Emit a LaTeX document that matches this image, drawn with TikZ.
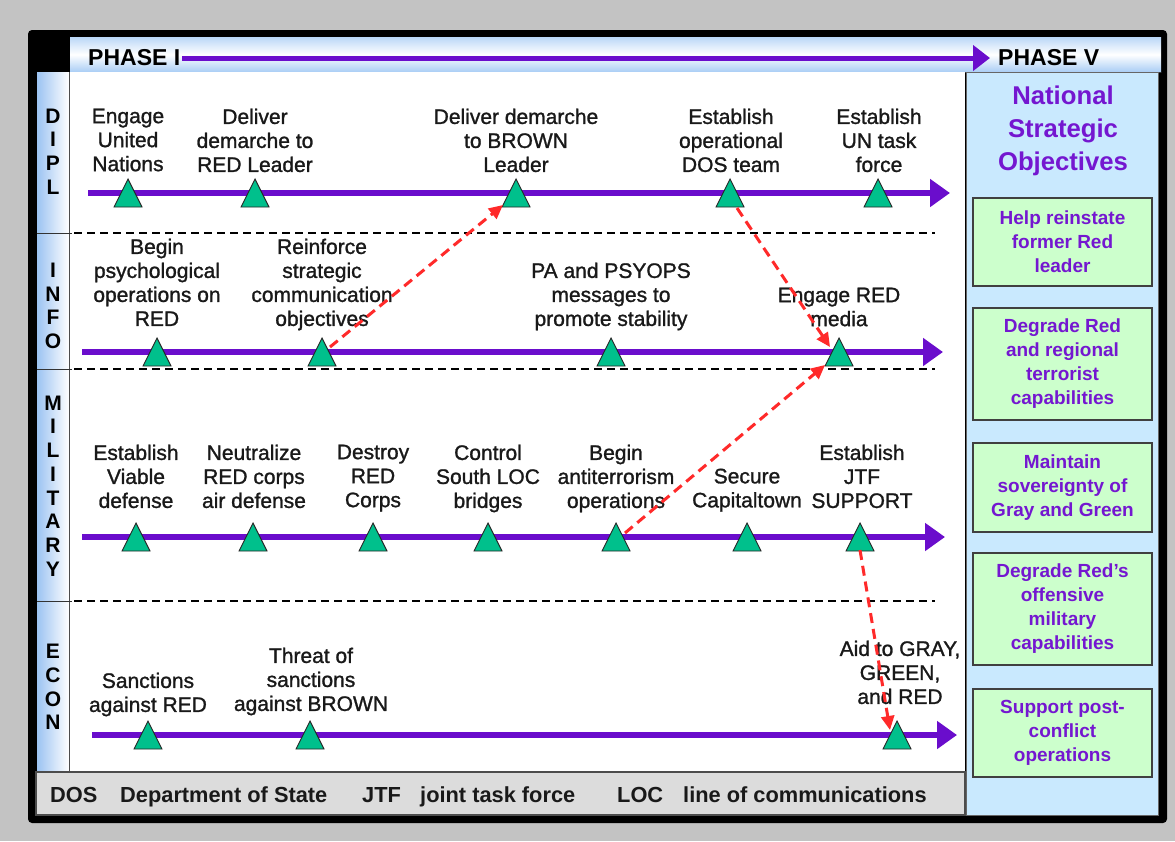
\documentclass[tikz,border=0pt]{standalone}
\usepackage{fontspec}
\setmainfont{Liberation Sans}
\newfontfamily\heavyfont[FakeBold=1.2]{Liberation Sans}
\usetikzlibrary{arrows.meta}

\definecolor{bggray}{HTML}{C3C3C3}
\definecolor{lanepurple}{HTML}{6A0DCC}
\definecolor{objpurple}{HTML}{7417D0}
\definecolor{trigreen}{HTML}{00C08C}
\definecolor{linkred}{HTML}{FF2A2A}
\definecolor{panelblue}{HTML}{C9E9FE}
\definecolor{boxgreen}{HTML}{CCFFCC}
\definecolor{legendgray}{HTML}{DCDCDC}
\definecolor{bandblue}{HTML}{A9CDF5}
\definecolor{columnblue}{HTML}{9CC3F2}

\tikzset{
  lane/.style={draw=lanepurple, line width=6pt, -{Triangle[length=20pt,width=27pt]}},
  phasearrow/.style={draw=lanepurple, line width=5pt, shorten >=6pt, -{Triangle[length=17pt,width=25pt]}},
  sepline/.style={draw=black, line width=2pt, dash pattern=on 8pt off 5pt},
  link/.style={draw=linkred, line width=3pt, dash pattern=on 10pt off 6pt, -{Triangle[length=14pt,width=13pt]}},
  lbl/.style={align=center, inner sep=0pt, anchor=north, text=black!90, font=\heavyfont\fontsize{21}{24}\selectfont},
  lanelbl/.style={align=center, inner sep=0pt, font=\bfseries\fontsize{21}{23.7}\selectfont},
  phase/.style={anchor=west, inner sep=2pt, font=\bfseries\fontsize{23}{27}\selectfont},
  tri/.style={rectangle, minimum width=28pt, minimum height=28pt, inner sep=0pt},
  trishape/.style={fill=trigreen, draw=black!85, line width=0.9pt, line join=miter},
  obj/.style={draw=black!75, line width=1.5pt, fill=boxgreen, minimum width=179pt, inner sep=0pt,
    align=center, text=objpurple, font=\bfseries\fontsize{19}{24}\selectfont},
  objtitle/.style={anchor=north, align=center, inner sep=0pt, text=objpurple,
    font=\bfseries\fontsize{25.7}{33}\selectfont},
  leg/.style={anchor=base west, inner sep=0pt, text=black!90, font=\bfseries\fontsize{21.8}{26}\selectfont},
}

% green milestone triangle sitting on a lane line
\newcommand\milestone[2]{%
  \node[tri] (#1) at (#2) {};
  \filldraw[trishape] ([shift={(-14,14)}]#1.center) -- ([shift={(14,14)}]#1.center)
    -- ([shift={(0,-14)}]#1.center) -- cycle;}

\begin{document}
\begin{tikzpicture}[x=1pt, y=-1pt]
  \useasboundingbox (0,0) rectangle (1175,841);
  \fill[bggray] (0,0) rectangle (1175,841);

  % outer frame
  \fill[black, rounded corners=4pt] (28,30) rectangle (1167,823);

  % header band
  \shade[top color=bandblue!80, bottom color=bandblue, middle color=white] (70,37) rectangle (1161,72);
  \draw[black!75, line width=1pt] (70,72) -- (1161,72);

  % lane title column
  \shade[left color=columnblue, right color=white] (37,72) rectangle (69,772);
  \draw[black!70, line width=1pt] (69.5,72) -- (69.5,772);

  % working area
  \fill[white] (70,72) rectangle (965,772);

  % objectives panel
  \filldraw[fill=panelblue, draw=black!60, line width=1pt] (966,72) rectangle (1158,815);

  % legend bar
  \filldraw[fill=legendgray, draw=black!70, line width=1.5pt] (36,772) rectangle (965,815);

  % lane separators
  \foreach \yy in {233,369,601} {
    \draw[black!80, line width=1pt] (37,\yy) -- (72,\yy);
    \draw[sepline] (74,\yy) -- (935,\yy);
  }

  % lane titles
  \node[lanelbl] (tDIPL) at (53,151.5) {D\\I\\P\\L};
  \node[lanelbl] (tINFO) at (53,306) {I\\N\\F\\O};
  \node[lanelbl] (tMIL) at (53,486) {M\\I\\L\\I\\T\\A\\R\\Y};
  \node[lanelbl] (tECON) at (53,687) {E\\C\\O\\N};

  % phase header
  \node[phase] (p1) at (86,58) {PHASE I};
  \node[phase] (p5) at (996,58) {PHASE V};
  \draw[phasearrow] (p1.east) -- (p5.west);

  % lane lines
  \coordinate (dS) at (88,193);  \coordinate (dE) at (950,193);
  \coordinate (iS) at (82,352);  \coordinate (iE) at (943,352);
  \coordinate (mS) at (82,537);  \coordinate (mE) at (945,537);
  \coordinate (eS) at (92,735);  \coordinate (eE) at (957,735);
  \draw[lane] (dS) -- (dE);
  \draw[lane] (iS) -- (iE);
  \draw[lane] (mS) -- (mE);
  \draw[lane] (eS) -- (eE);

  % milestones
  \milestone{d1}{128,193} \milestone{d2}{255,193} \milestone{d3}{516,193}
  \milestone{d4}{730,193} \milestone{d5}{878,193}
  \milestone{i1}{157,352} \milestone{i2}{322,352} \milestone{i3}{611,352}
  \milestone{i4}{839,352}
  \milestone{m1}{136,537} \milestone{m2}{253,537} \milestone{m3}{373,537}
  \milestone{m4}{488,537} \milestone{m5}{616,537} \milestone{m6}{747,537}
  \milestone{m7}{860,537}
  \milestone{e1}{148,735} \milestone{e2}{310,735} \milestone{e3}{897,735}

  % milestone labels: diplomatic
  \node[lbl] (d1l) at (128,108.5) {Engage\\United\\Nations};
  \node[lbl] (d2l) at (255,108.5) {Deliver\\demarche to\\RED Leader};
  \node[lbl] (d3l) at (516,108.5) {Deliver demarche\\to BROWN\\Leader};
  \node[lbl] (d4l) at (731,108.5) {Establish\\operational\\DOS team};
  \node[lbl] (d5l) at (879,108.5) {Establish\\UN task\\force};

  % information
  \node[lbl] (i1l) at (157,238.5) {Begin\\psychological\\operations on\\RED};
  \node[lbl] (i2l) at (322,238.5) {Reinforce\\strategic\\communication\\objectives};
  \node[lbl] (i3l) at (611,262.5) {PA and PSYOPS\\messages to\\promote stability};
  \node[lbl] (i4l) at (839,287.5) {Engage RED\\media};

  % military
  \node[lbl] (m1l) at (136,444.5) {Establish\\Viable\\defense};
  \node[lbl] (m2l) at (254,444.5) {Neutralize\\RED corps\\air defense};
  \node[lbl] (m3l) at (373,444.5) {Destroy\\RED\\Corps};
  \node[lbl] (m4l) at (488,444.5) {Control\\South LOC\\bridges};
  \node[lbl] (m5l) at (616,444.5) {Begin\\antiterrorism\\operations};
  \node[lbl] (m6l) at (747,468.5) {Secure\\Capitaltown};
  \node[lbl] (m7l) at (862,444.5) {Establish\\JTF\\SUPPORT};

  % economic
  \node[lbl] (e1l) at (148,672.5) {Sanctions\\against RED};
  \node[lbl] (e2l) at (311,647.5) {Threat of\\sanctions\\against BROWN};
  \node[lbl] (e3l) at (900,640.5) {Aid to GRAY,\\GREEN,\\and RED};

  % cross-lane dependencies
  \draw[link] ([shift={(8,-5)}]i2.center) -- ([shift={(-13,12)}]d3.center);
  \draw[link] ([shift={(7,15)}]d4.center) -- ([shift={(-9,-5)}]i4.center);
  \draw[link] ([shift={(9,-4)}]m5.center) -- ([shift={(-14,13)}]i4.center);
  \draw[link] ([shift={(0,13)}]m7.center) -- ([shift={(-7,-5)}]e3.center);

  % national strategic objectives
  \node[objtitle] (nso) at (1063,85.5) {National\\Strategic\\Objectives};
  \node[obj, minimum height=88pt] (o1) at (1062.5,242) {Help reinstate\\former Red\\leader};
  \node[obj, minimum height=112pt] (o2) at (1062.5,364) {Degrade Red\\and regional\\terrorist\\capabilities};
  \node[obj, minimum height=89pt] (o3) at (1062.5,487.5) {Maintain\\sovereignty of\\Gray and Green};
  \node[obj, minimum height=112pt] (o4) at (1062.5,609) {Degrade Red's\\offensive\\military\\capabilities};
  \node[obj, minimum height=88pt] (o5) at (1062.5,733) {Support post-\\conflict\\operations};

  % abbreviations
  \node[leg] (lg1) at (50,802) {DOS};
  \node[leg] (lg2) at (120,802) {Department of State};
  \node[leg] (lg3) at (362,802) {JTF};
  \node[leg] (lg4) at (420,802) {joint task force};
  \node[leg] (lg5) at (617,802) {LOC};
  \node[leg] (lg6) at (683,802) {line of communications};
\end{tikzpicture}
\end{document}
